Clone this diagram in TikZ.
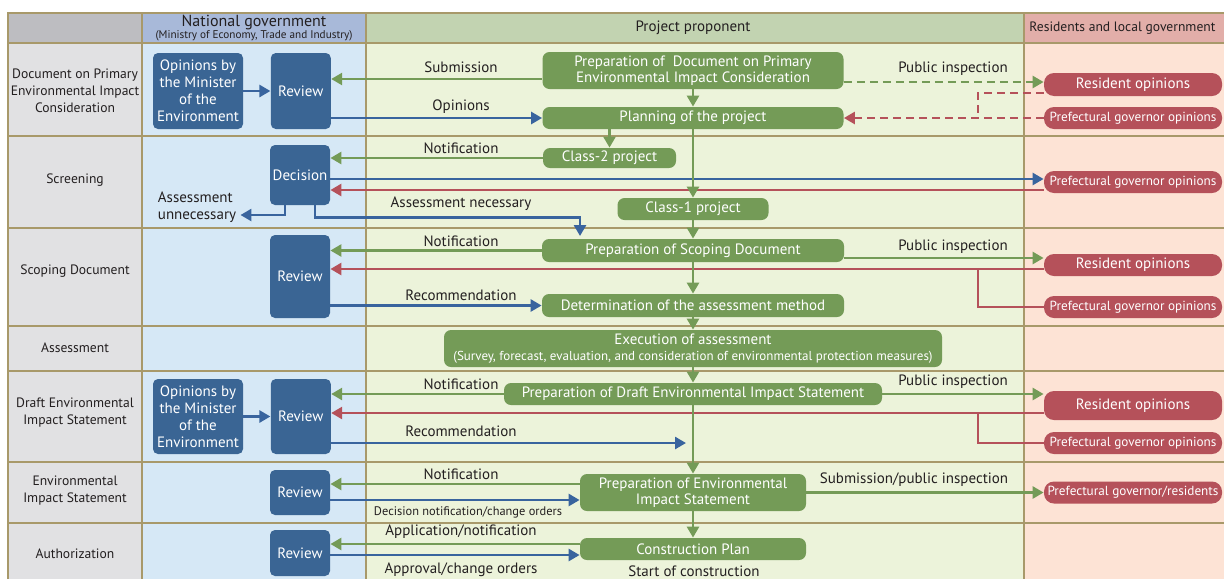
\documentclass[tikz,border=0pt]{standalone}
\usepackage{fontspec}
\setmainfont{PT Sans}
\usetikzlibrary{positioning,arrows.meta}

\definecolor{govblue}{RGB}{58,101,148}
\definecolor{govline}{RGB}{57,100,158}
\definecolor{propgreen}{RGB}{116,155,87}
\definecolor{resred}{RGB}{181,81,90}
\definecolor{gridtan}{RGB}{168,153,106}
\definecolor{labfill}{RGB}{225,225,227}
\definecolor{labhead}{RGB}{189,189,193}
\definecolor{govfill}{RGB}{214,232,246}
\definecolor{govhead}{RGB}{168,185,217}
\definecolor{propfill}{RGB}{236,243,218}
\definecolor{prophead}{RGB}{194,211,177}
\definecolor{resfill}{RGB}{253,227,213}
\definecolor{reshead}{RGB}{226,174,169}
\definecolor{inktext}{RGB}{35,31,32}

\begin{document}
\begin{tikzpicture}[
    x=0.5pt, y=-0.5pt,
    govbox/.style={%
      fill=govblue,
      text=white,
      rounded corners=2.5pt,
      inner sep=0pt,
      align=center,
      font=\fontsize{7.5}{8.5}\selectfont,
    },
    propbox/.style={%
      fill=propgreen,
      text=white,
      rounded corners=3.5pt,
      inner sep=0pt,
      align=center,
      font=\fontsize{7.5}{8}\selectfont,
    },
    resbox/.style={%
      fill=resred,
      text=white,
      rounded corners=5pt,
      inner sep=0pt,
      minimum width=89pt,
      minimum height=11pt,
      font=\fontsize{6.6}{7}\selectfont,
    },
    bigres/.style={font=\fontsize{7.5}{8}\selectfont},
    lbl/.style={text=inktext, inner sep=0pt, font=\fontsize{7.5}{8.5}\selectfont},
    rowlbl/.style={text=inktext, align=center, font=\fontsize{6.8}{8.5}\selectfont},
    gridline/.style={draw=gridtan, line width=0.8pt},
    garr/.style={draw=propgreen, line width=1.3pt, -{Triangle[length=5.5pt,width=6pt]}},
    barr/.style={draw=govline, line width=1.3pt, -{Triangle[length=5.5pt,width=6pt]}},
    rarr/.style={draw=resred, line width=1.3pt, -{Triangle[length=5.5pt,width=6pt]}},
    rline/.style={draw=resred, line width=1.3pt},
    dashes/.style={dash pattern=on 4pt off 2.5pt},
  ]

    \useasboundingbox (0,0) rectangle (1224,579);

    \fill[labhead] (8,13) rectangle (142,43);
    \fill[govhead] (142,13) rectangle (366,43);
    \fill[prophead] (366,13) rectangle (1024,43);
    \fill[reshead] (1024,13) rectangle (1224,43);
    \fill[labfill] (8,43) rectangle (142,579);
    \fill[govfill] (142,43) rectangle (366,579);
    \fill[propfill] (366,43) rectangle (1024,579);
    \fill[resfill] (1024,43) rectangle (1224,579);
    \draw[gridline] (8,579) -- (8,13) -- (1224,13);
    \foreach \x in {142,366,1024}
      \draw[gridline] (\x,13) -- (\x,579);
    \foreach \y in {43,136,228,326,371,462,523}
      \draw[gridline] (8,\y) -- (1224,\y);

    \node [lbl, font=\fontsize{8}{9}\selectfont] (hnat) at (254,23) {National government};
    \node [lbl, font=\fontsize{5.6}{6}\selectfont] (hmeti) at (254,36) {(Ministry of Economy, Trade and Industry)};
    \node [lbl] (hprop) at (693,28) {Project proponent};
    \node [lbl, anchor=west, font=\fontsize{6.8}{8}\selectfont] (hres) at (1029,28) {Residents and local government};

    \node [rowlbl] (r1) at (75,91) {Document on Primary\\Environmental Impact\\Consideration};
    \node [rowlbl] (r2) at (75,180) {Screening};
    \node [rowlbl] (r3) at (75,271) {Scoping Document};
    \node [rowlbl] (r4) at (75,348) {Assessment};
    \node [rowlbl] (r5) at (75,413) {Draft Environmental\\Impact Statement};
    \node [rowlbl] (r6) at (75,491) {Environmental\\Impact Statement};
    \node [rowlbl] (r7) at (75,554) {Authorization};

    \node [govbox, minimum width=45pt, minimum height=38pt] (opin1) at (198,91) {Opinions by\\the Minister\\of the\\Environment};
    \node [govbox, minimum width=30pt, minimum height=38pt, right=13.5pt of opin1] (review1) {Review};
    \node [govbox, minimum width=30pt, minimum height=30pt] (decision) at (300,175) {Decision};
    \node [govbox, minimum width=30pt, minimum height=41.5pt] (review2) at (300,276.5) {Review};
    \node [govbox, minimum width=45pt, minimum height=37.5pt] (opin2) at (198,416.5) {Opinions by\\the Minister\\of the\\Environment};
    \node [govbox, minimum width=30pt, minimum height=37.5pt, right=13.5pt of opin2] (review3) {Review};
    \node [govbox, minimum width=30pt, minimum height=22.5pt] (review4) at (300,492.5) {Review};
    \node [govbox, minimum width=30pt, minimum height=23pt] (review5) at (300,553) {Review};

    \node [propbox, minimum width=150.5pt, minimum height=18.5pt] (prepdoc) at (693,70.5) {Preparation of\ \ Document on Primary\\Environmental Impact Consideration};
    \node [propbox, minimum width=150.5pt, minimum height=11pt] (planning) at (693,118) {Planning of the project};
    \node [propbox, minimum width=66.5pt, minimum height=10pt] (class2) at (609.5,158) {Class-2 project};
    \node [propbox, minimum width=75.5pt, minimum height=11pt] (class1) at (693,209) {Class-1 project};
    \node [propbox, minimum width=151pt, minimum height=11.5pt] (prepscope) at (693,250.5) {Preparation of Scoping Document};
    \node [propbox, minimum width=151pt, minimum height=11.5pt] (determ) at (693,305.5) {Determination of the assessment method};
    \node [propbox, minimum width=249pt, minimum height=18.5pt] (exec) at (693,348.5) {Execution of assessment\\{\fontsize{6.5}{7}\selectfont(Survey, forecast, evaluation, and consideration of environmental protection measures)}};
    \node [propbox, minimum width=189pt, minimum height=11pt] (prepdraft) at (693,394) {Preparation of Draft Environmental Impact Statement};
    \node [propbox, minimum width=113pt, minimum height=18.5pt] (prepeis) at (693,492.5) {Preparation of Environmental\\Impact Statement};
    \node [propbox, minimum width=113pt, minimum height=11pt] (construct) at (693,549) {Construction Plan};

    \node [resbox, bigres, minimum height=11.5pt] (resop1) at (1133,84.5) {Resident opinions};
    \node [resbox] (prefop1) at (1133,118) {Prefectural governor opinions};
    \node [resbox] (prefop2) at (1133,182) {Prefectural governor opinions};
    \node [resbox, bigres] (resop2) at (1133,265) {Resident opinions};
    \node [resbox] (prefop3) at (1133,307) {Prefectural governor opinions};
    \node [resbox, bigres, minimum height=14.5pt] (resop3) at (1133,405.5) {Resident opinions};
    \node [resbox] (prefop4) at (1133,443) {Prefectural governor opinions};
    \node [resbox] (prefres) at (1133,492.5) {Prefectural governor/residents};

    \node [lbl] (lsub) at (461,67) {Submission};
    \node [lbl] (lopin) at (461,107) {Opinions};
    \node [lbl] (lnot1) at (461,148) {Notification};
    \node [lbl] (lnec) at (461,204) {Assessment necessary};
    \node [lbl, align=left] (unnec) at (197,207) {Assessment\\unnecessary};
    \node [lbl] (lnot2) at (461,241) {Notification};
    \node [lbl] (lrec1) at (461,295) {Recommendation};
    \node [lbl] (lnot3) at (461,384) {Notification};
    \node [lbl] (lrec2) at (461,431) {Recommendation};
    \node [lbl] (lnot4) at (461,474) {Notification};
    \node [lbl, font=\fontsize{6.2}{7}\selectfont] (ldec) at (468,512) {Decision notification/change orders};
    \node [lbl] (lapp) at (461,532) {Application/notification};
    \node [lbl] (lappr) at (461,570) {Approval/change orders};
    \node [lbl] (lstart) at (694,571) {Start of construction};
    \node [lbl] (lpub1) at (953,69) {Public inspection};
    \node [lbl] (lpub2) at (953,247) {Public inspection};
    \node [lbl] (lpub3) at (953,382) {Public inspection};
    \node [lbl] (lsubp) at (914,480) {Submission/public inspection};

    \coordinate (j1) at (978,118);
    \coordinate (j2) at (978,269);
    \coordinate (j3) at (978,413);
    \coordinate (nec) at (580,236);
    \coordinate (recend) at (686,443);

    \draw [barr] (opin1) -- (review1);
    \draw [garr] (prepdoc.west |- 0,79) -- (review1.east |- 0,79);
    \draw [barr] (review1.east |- planning.west) -- (planning.west);
    \draw [garr, dashes] (prepdoc.east |- 0,82) -- (resop1.west |- 0,82);
    \draw [rline, dashes] (resop1.west |- 0,93) -| (j1);
    \draw [rarr, dashes] (prefop1.west) -- (planning.east);

    \draw [garr] (class2.west) -- (decision.east |- class2.west);
    \draw [barr] (decision.east |- 0,179) -- (prefop2.west |- 0,179);
    \draw [rarr] (prefop2.west |- 0,190) -- (decision.east |- 0,190);
    \draw [barr] (decision.south) ++(-15,0) |- ([xshift=2pt]unnec.east |- 0,215);
    \draw [barr] (decision.south) ++(15,0) -- ++(0,12) -| (nec);

    \draw [garr] (prepscope.west) -- (review2.east |- prepscope.west);
    \draw [garr] (prepscope.east |- 0,258) -- (resop2.west |- 0,258);
    \draw [rarr] (resop2.west |- 0,269) -- (review2.east |- 0,269);
    \draw [rline] (prefop3.west) -| (j2);
    \draw [barr] (review2.east |- determ.west) -- (determ.west);

    \draw [barr] (opin2) -- (review3);
    \draw [garr] (prepdraft.west) -- (review3.east |- prepdraft.west);
    \draw [garr] (prepdraft.east) -- (resop3.west |- prepdraft.east);
    \draw [rarr] (resop3.west |- 0,413) -- (review3.east |- 0,413);
    \draw [rline] (prefop4.west) -| (j3);
    \draw [barr] (review3.east |- recend) -- (recend);

    \draw [garr] (prepeis.west |- 0,484) -- (review4.east |- 0,484);
    \draw [barr] (review4.east |- 0,500) -- (prepeis.west |- 0,500);
    \draw [garr] (prepeis.east) -- (prefres.west);

    \draw [garr] (construct.west |- 0,544) -- (review5.east |- 0,544);
    \draw [barr] (review5.east |- 0,555) -- (construct.west |- 0,555);

    \draw [garr] (prepdoc) -- (planning);
    \draw [garr] (class2.north |- planning.south) -- (class2.north);
    \draw [garr] (planning) -- (class1);
    \draw [garr] (class1) -- (prepscope);
    \draw [garr] (prepscope) -- (determ);
    \draw [garr] (determ) -- (exec);
    \draw [garr] (exec) -- (prepdraft);
    \draw [garr] (prepdraft) -- (prepeis);
    \draw [garr] (prepeis) -- (construct);

\end{tikzpicture}
\end{document}
